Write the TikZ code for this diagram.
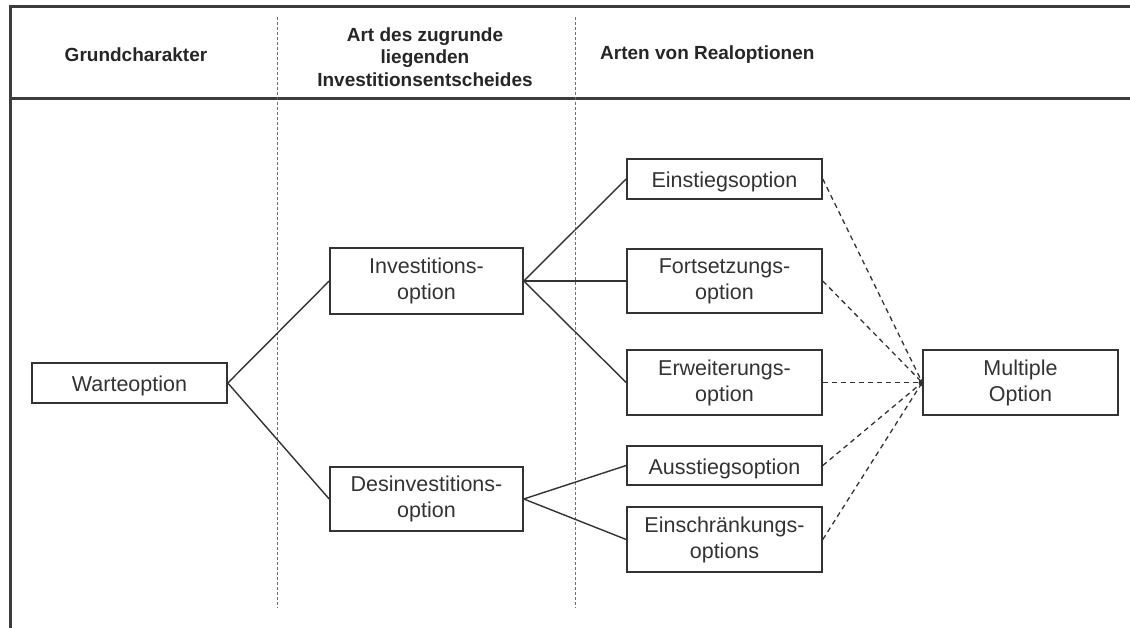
\documentclass[tikz,border=0pt]{standalone}
\usepackage{fontspec}
\setmainfont{Liberation Sans}
\usetikzlibrary{arrows.meta}
\definecolor{ink}{HTML}{333333}
\definecolor{frameink}{HTML}{3C3C3C}
\definecolor{sepink}{HTML}{707070}
\tikzset{
  optbox/.style={draw=ink, line width=1.6pt, fill=white, text=ink, align=center,
    inner sep=0pt, font=\fontsize{21.5}{26}\selectfont,
    execute at begin node={\rule{0pt}{21.5pt}}},
  headtext/.style={text=black!85, align=center, inner sep=0pt,
    font=\fontsize{19}{22.5}\selectfont\bfseries},
  tree/.style={draw=ink, line width=1.4pt},
  link/.style={draw=ink, line width=1.3pt, dash pattern=on 5pt off 4pt,
    -{To[length=3pt,width=5pt]}},
  frameline/.style={draw=frameink, line width=3pt},
  colsep/.style={draw=sepink, line width=0.9pt, dash pattern=on 3pt off 2pt}
}
\begin{document}
\begin{tikzpicture}[x=1pt,y=-1pt]
\useasboundingbox (0,0) rectangle (1130,628);
\fill[white] (0,0) rectangle (1130,628);

% table frame and header rule
\draw[frameline] (10,628) -- (10,7) -- (1130,7);
\draw[frameline] (10,98.5) -- (1130,98.5);

% column separators
\draw[colsep] (277,17) -- (277,608);
\draw[colsep] (575,17) -- (575,608);

% column headings
\node[headtext] (h1) at (136,55) {Grundcharakter};
\node[headtext] (h2) at (425,57) {Art des zugrunde\\liegenden\\Investitionsentscheides};
\node[headtext, anchor=west] (h3) at (600,55) {Arten von Realoptionen};

% option boxes
\node[optbox, minimum width=195pt, minimum height=40pt] (warte) at (129.5,383) {Warteoption};
\node[optbox, minimum width=193pt, minimum height=66pt] (inv) at (426.5,281) {Investitions-\\option};
\node[optbox, minimum width=193pt, minimum height=64pt] (desinv) at (426.5,499) {Desinvestitions-\\option};
\node[optbox, minimum width=195pt, minimum height=40pt] (einstieg) at (724.5,179) {Einstiegsoption};
\node[optbox, minimum width=195pt, minimum height=64pt] (fort) at (724.5,281) {Fortsetzungs-\\option};
\node[optbox, minimum width=195pt, minimum height=65pt] (erw) at (724.5,382.5) {Erweiterungs-\\option};
\node[optbox, minimum width=195pt, minimum height=39pt] (aus) at (724.5,465.5) {Ausstiegsoption};
\node[optbox, minimum width=195pt, minimum height=65pt] (einschr) at (724.5,539.5) {Einschränkungs-\\options};
\node[optbox, minimum width=195pt, minimum height=65pt] (multi) at (1020.5,382.5) {Multiple\\Option};

% decision tree
\draw[tree] (warte.east) -- (inv.west);
\draw[tree] (warte.east) -- (desinv.west);
\draw[tree] (inv.east) -- (einstieg.west);
\draw[tree] (inv.east) -- (fort.west);
\draw[tree] (inv.east) -- (erw.west);
\draw[tree] (desinv.east) -- (aus.west);
\draw[tree] (desinv.east) -- (einschr.west);

% combinations into the multiple option
\draw[link] (einstieg.east) -- (multi.west);
\draw[link] (fort.east) -- (multi.west);
\draw[link] (erw.east) -- (multi.west);
\draw[link] (aus.east) -- (multi.west);
\draw[link] (einschr.east) -- (multi.west);
\end{tikzpicture}
\end{document}
